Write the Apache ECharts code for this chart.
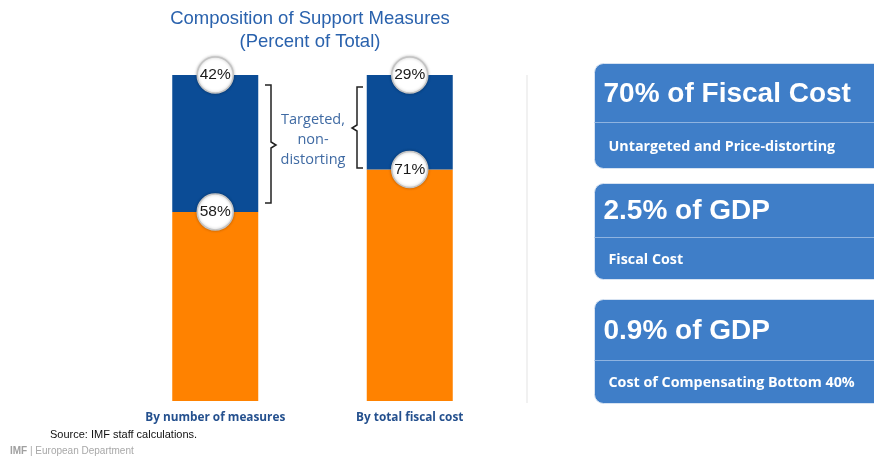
<!DOCTYPE html>
<html>
<head>
<meta charset="utf-8">
<script src="https://cdn.jsdelivr.net/npm/echarts@6/dist/echarts.min.js"></script>
<style>
  html, body { margin: 0; padding: 0; background: #ffffff; }
  #chart { width: 874px; height: 458px; }
</style>
</head>
<body>
<div id="chart"></div>
<script>
// categories and shares (percent of total)
const categories = ['By number of measures', 'By total fiscal cost'];
const untargeted = [58, 71];   // orange, bottom
const targeted = [42, 29];     // blue, top

// key figures shown in the right panels
const panelHeads = ['70% of Fiscal Cost', '2.5% of GDP', '0.9% of GDP'];
const panelSubs = ['Untargeted and Price-distorting', 'Fiscal Cost', 'Cost of Compensating Bottom 40%'];

const BLUE = '#0b4c96';
const ORANGE = '#ff8200';
const PANEL = '#3f7ec8';

const chart = echarts.init(document.getElementById('chart'));

// circle badges sit on the top edge of each segment
const badgeData = [];
categories.forEach((c, i) => {
    badgeData.push({ value: [c, untargeted[i] + targeted[i]], pct: targeted[i] });
    badgeData.push({ value: [c, untargeted[i]], pct: untargeted[i] });
});

// right-hand panels
const panelTops = [63, 183, 299];
const panelHeights = [105, 96, 104];
const panelDiv = [59, 54, 61];
const panels = [];
panelTops.forEach((top, i) => {
    const h = panelHeights[i];
    panels.push({
        type: 'group', left: 592, top: top,
        children: [
            { type: 'rect', shape: { x: 0, y: 0, width: 300, height: h, r: 9 },
              style: { fill: PANEL, stroke: '#d7e3f2', lineWidth: 1 } },
            { type: 'line', shape: { x1: 0, y1: panelDiv[i], x2: 300, y2: panelDiv[i] },
              style: { stroke: '#8fb3e0', lineWidth: 1 } },
            { type: 'text', x: 9, y: panelDiv[i] / 2 + 1,
              style: { text: panelHeads[i], fill: '#fff', font: 'bold 28px "Liberation Sans", Arial',
                       textVerticalAlign: 'middle' } },
            { type: 'text', x: 14, y: panelDiv[i] + (h - panelDiv[i]) / 2 + 1,
              style: { text: panelSubs[i], fill: '#fff', font: 'bold 14.3px "Open Sans", sans-serif',
                       textVerticalAlign: 'middle' } }
        ]
    });
});

chart.setOption({
    backgroundColor: '#ffffff',
    animation: false,
    title: {
        text: 'Composition of Support Measures\n(Percent of Total)',
        left: 305, top: 2, textAlign: 'center',
        textStyle: { fontFamily: '"Liberation Sans", Arial', fontWeight: 'normal', fontSize: 18.5,
                     color: '#2a62ad', lineHeight: 23 }
    },
    grid: { left: 118, width: 389, top: 75, bottom: 57 },
    xAxis: {
        type: 'category', data: categories,
        axisLine: { show: false }, axisTick: { show: false },
        axisLabel: { margin: 11, fontFamily: '"Open Sans", sans-serif', fontWeight: 'bold',
                     fontSize: 11.8, color: '#24508e' }
    },
    yAxis: { type: 'value', min: 0, max: 100, show: false, splitLine: { show: false } },
    series: [
        { type: 'bar', stack: 'a', data: untargeted, barWidth: 86, itemStyle: { color: ORANGE } },
        { type: 'bar', stack: 'a', data: targeted, barWidth: 86, itemStyle: { color: BLUE } },
        {
            type: 'scatter', data: badgeData, symbol: 'circle', symbolSize: 36, z: 5,
            itemStyle: { color: '#ffffff', opacity: 1, borderColor: '#c4c4c4', borderWidth: 1.5,
                         shadowBlur: 3, shadowColor: 'rgba(0,0,0,0.25)' },
            label: { show: true, position: 'inside', formatter: p => p.data.pct + '%',
                     fontFamily: '"Liberation Sans", Arial', fontSize: 15.5, color: '#1a1a1a' }
        }
    ],
    graphic: [
        // brackets around the targeted segment
        { type: 'polyline', shape: { points: [[265, 85], [271, 85], [271, 142], [276, 145], [271, 148], [271, 203], [265, 203]] },
          style: { stroke: '#222', lineWidth: 1.5, fill: null } },
        { type: 'polyline', shape: { points: [[363, 87], [357, 87], [357, 125], [352, 128], [357, 131], [357, 168], [363, 168]] },
          style: { stroke: '#222', lineWidth: 1.5, fill: null } },
        { type: 'text', x: 313, y: 140,
          style: { text: 'Targeted,\nnon-\ndistorting', fill: '#3f6aa3', font: '14.5px "Open Sans", sans-serif',
                   lineHeight: 20, textAlign: 'center', textVerticalAlign: 'middle' } },
        // divider
        { type: 'line', shape: { x1: 527, y1: 75, x2: 527, y2: 403 }, style: { stroke: '#ececec', lineWidth: 1.5 } },
        { type: 'text', x: 50, y: 435,
          style: { text: 'Source: IMF staff calculations.', fill: '#111', font: '11px "Liberation Sans", Arial',
                   textVerticalAlign: 'middle' } },
        { type: 'text', x: 10, y: 451,
          style: { text: '{b|IMF} | European Department', fill: '#a8a8a8', font: '10px "Liberation Sans", Arial',
                   textVerticalAlign: 'middle',
                   rich: { b: { fontWeight: 'bold', fontSize: 10, fill: '#a0a0a0' } } } },
        ...panels
    ]
});
</script>
</body>
</html>
